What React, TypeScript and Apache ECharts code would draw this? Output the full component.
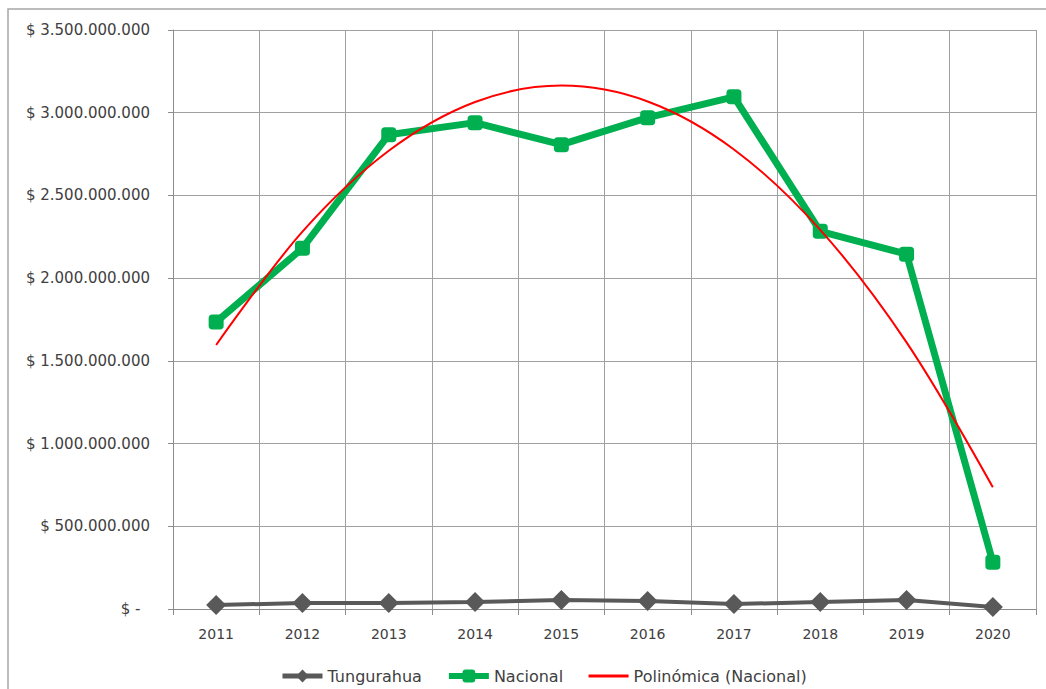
import React, { useEffect, useRef } from "react";
import * as echarts from "echarts";

const years = ["2011", "2012", "2013", "2014", "2015", "2016", "2017", "2018", "2019", "2020"];
const tungurahua = [24e6, 36e6, 36e6, 42e6, 54e6, 48e6, 30e6, 42e6, 54e6, 12e6];
const nacional = [1735e6, 2181e6, 2867e6, 2940e6, 2807e6, 2970e6, 3096e6, 2283e6, 2145e6, 283e6];
const polinomica = [1596e6, 2281e6, 2770e6, 3065e6, 3164e6, 3068e6, 2778e6, 2292e6, 1612e6, 736e6];

const fmt = (v: number) => {
  if (v === 0) return "$ -  ";
  return "$ " + Math.round(v).toString().replace(/\B(?=(\d{3})+(?!\d))/g, ".");
};

export default function App() {
  const ref = useRef<HTMLDivElement>(null);
  useEffect(() => {
    if (!ref.current) return;
    const chart = echarts.init(ref.current, undefined, { renderer: "svg" });
    const font = "'DejaVu Sans', sans-serif";
    chart.setOption({
      animation: false,
      textStyle: { fontFamily: font },
      graphic: [
        {
          type: "rect",
          shape: { x: 8, y: 9, width: 1200, height: 900 },
          style: { fill: "none", stroke: "#a6a6a6", lineWidth: 1.5 },
          silent: true,
        },
      ],
      grid: { left: 173, right: 10, top: 30, bottom: 80, containLabel: false },
      legend: {
        top: 663,
        left: 275,
        itemWidth: 40,
        itemHeight: 16,
        itemGap: 24,
        textStyle: { fontFamily: font, fontSize: 16, color: "#404040" },
        data: [
          { name: "Tungurahua", lineStyle: { width: 5 } },
          { name: "Nacional", lineStyle: { width: 6 } },
          { name: "Polinómica (Nacional)", itemStyle: { opacity: 0 }, lineStyle: { width: 3 } },
        ],
      },
      xAxis: {
        type: "category",
        data: years,
        boundaryGap: true,
        axisLine: { lineStyle: { color: "#8c8c8c", width: 1 } },
        axisTick: { show: true, length: 6, lineStyle: { color: "#8c8c8c" } },
        axisLabel: { color: "#404040", fontSize: 14, fontFamily: font, margin: 18 },
        splitLine: { show: true, lineStyle: { color: "#a0a0a0", width: 1 } },
      },
      yAxis: {
        type: "value",
        min: 0,
        max: 3.5e9,
        interval: 5e8,
        axisLine: { show: true, lineStyle: { color: "#8c8c8c", width: 1 } },
        axisTick: { show: true, length: 5, lineStyle: { color: "#8c8c8c" } },
        axisLabel: { color: "#404040", fontSize: 15, fontFamily: font, margin: 23, formatter: fmt },
        splitLine: { show: true, lineStyle: { color: "#a0a0a0", width: 1 } },
      },
      series: [
        {
          name: "Tungurahua",
          type: "line",
          data: tungurahua,
          symbol: "diamond",
          symbolSize: 20,
          itemStyle: { color: "#595959" },
          lineStyle: { color: "#595959", width: 4 },
          z: 3,
        },
        {
          name: "Nacional",
          type: "line",
          data: nacional,
          symbol: "roundRect",
          symbolSize: 15,
          itemStyle: { color: "#00b050" },
          lineStyle: { color: "#00b050", width: 7 },
          z: 4,
        },
        {
          name: "Polinómica (Nacional)",
          type: "line",
          data: polinomica,
          smooth: 0.33,
          symbol: "none",
          itemStyle: { color: "#ff0000" },
          lineStyle: { color: "#ff0000", width: 2 },
          z: 5,
        },
      ],
    });
    return () => chart.dispose();
  }, []);
  return <div ref={ref} style={{ width: 1046, height: 689, position: "absolute", left: 0, top: 0 }} />;
}
